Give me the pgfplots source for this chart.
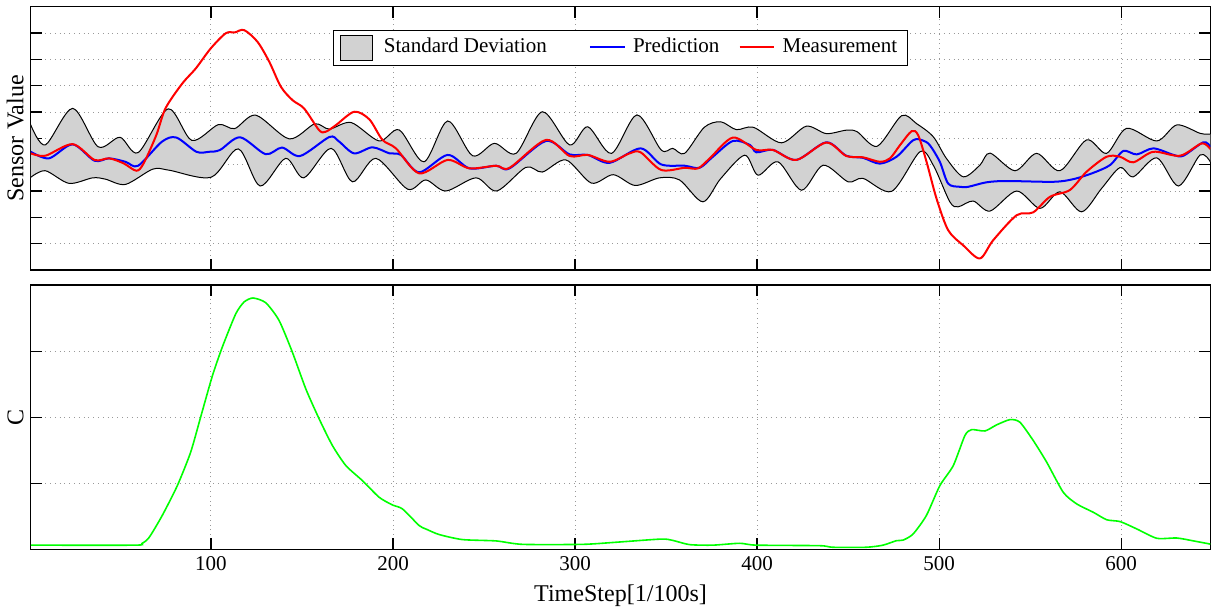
\documentclass[border=0pt]{standalone}
\usepackage{fontspec}
\setmainfont{Liberation Serif}
\usepackage{pgfplots}
\pgfplotsset{compat=1.18}
\usepgfplotslibrary{fillbetween}

\pgfplotstableread{
x v
1 0.51
9 -0.25
24 1.14
38 -0.32
50 0.04
60 -0.54
76.5 1.12
89.5 -0.08
104 0.52
113 0.37
124.6 0.88
143 -0.02
157 0.55
165 0.35
177 0.60
192.4 -0.10
203.4 0.32
217 -0.89
230 0.66
243.7 -0.66
255.7 -0.19
267.6 -0.57
282 1.01
297 -0.25
307 0.44
320 -0.57
334 0.89
347.3 -0.44
353.7 -0.38
360.2 -0.57
371 0.42
380 0.63
388.6 0.33
398 0.42
413.4 -0.17
427 0.46
438 0.18
449 0.31
455 0.25
466 -0.30
479.4 0.86
487.6 0.56
496.8 0.06
504.1 -0.77
513.3 -1.46
522.4 -1.02
528 -0.56
541.7 -1.23
553.6 -0.57
566.4 -1.23
581 -0.06
592 -0.57
603 0.38
619.6 -0.10
630.6 0.51
643.4 0.19
649 0.16
}\bandup

\pgfplotstableread{
x v
1 -1.48
9 -1.23
22 -1.71
35 -1.50
42 -1.55
53 -1.75
68 -1.17
77 -1.21
100 -1.48
115 -0.40
127 -1.81
141 -0.76
151 -1.50
166 -0.38
177.7 -1.65
190.6 -0.76
208 -1.93
218 -1.58
229 -2.00
245.6 -1.50
257 -2.00
273 -1.10
282 -1.28
295 -0.82
309 -1.70
321 -1.38
333 -1.79
346.4 -1.50
357.4 -1.58
370.2 -2.41
380 -1.53
393.2 -0.64
400.5 -1.40
411.5 -0.89
424.4 -1.97
436.3 -1.02
450 -1.65
458.2 -1.52
474 -2.01
489.5 -0.51
496.8 -1.02
505.9 -2.41
510.5 -2.60
518.7 -2.38
528 -2.76
542.6 -2.00
555.4 -2.66
566.4 -2.03
578.3 -2.79
589.3 -1.90
599.4 -1.11
606.7 -1.46
619.6 -0.74
631.5 -1.81
643.4 -0.63
649 -0.89
}\banddown

\pgfplotstableread{
x v
1 -0.51
11 -0.76
24 -0.23
36 -0.85
44 -0.76
53 -0.89
60 -1.04
73 -0.13
81 0.03
92 -0.51
99 -0.51
105 -0.44
116 0.04
130 -0.60
139 -0.35
149 -0.67
165 0.05
170 -0.10
178.6 -0.57
188.7 -0.34
198 -0.57
204.3 -0.63
214.4 -1.29
230 -0.63
242 -1.14
256.6 -1.04
264 -1.14
284 -0.10
297 -0.61
307 -0.63
319 -0.93
336 -0.38
347.3 -0.99
360.2 -1.04
368.4 -1.12
375.7 -0.70
386.7 -0.10
396 -0.25
399.6 -0.53
408.7 -0.44
421.6 -0.82
438 -0.15
449 -0.66
458.2 -0.74
467.4 -0.96
476.6 -0.70
485.8 -0.07
491 -0.08
494.9 -0.26
500.4 -0.89
505 -1.72
511.4 -1.84
516 -1.84
526 -1.67
537 -1.62
562.7 -1.65
573.7 -1.55
584.7 -1.31
594 -1.01
601.2 -0.48
608.6 -0.61
617.7 -0.38
628.8 -0.63
634.2 -0.66
645.2 -0.15
649 -0.32
}\predtab

\pgfplotstableread{
x v
1 -0.57
9 -0.66
24 -0.22
36 -0.82
44 -0.76
52 -0.95
59 -1.23
63 -0.95
70 0.13
75 1.14
84.2 2.08
91.6 2.65
99.8 3.41
108.1 3.99
113 4.02
118.2 4.11
125.5 3.67
132 2.91
138.4 1.96
144.8 1.45
151.2 1.13
159.4 0.31
163 0.25
168.6 0.50
178.7 1.01
187 0.72
194.2 -0.06
201.6 -0.38
214.4 -1.33
230 -0.82
242 -1.14
256.6 -1.04
264 -1.12
284 -0.06
297 -0.67
307 -0.63
319 -0.89
330 -0.57
336 -0.53
347.3 -1.20
360.2 -1.12
367.5 -1.14
374 -0.76
386.7 0.03
399.6 -0.44
408.7 -0.44
421.6 -0.82
438 -0.16
449 -0.67
458.2 -0.72
467.4 -0.89
473 -0.76
478.5 -0.26
484.9 0.27
488.5 0.12
493.1 -0.89
498.6 -2.29
505 -3.49
513.2 -4.06
522.4 -4.56
529.7 -3.87
542.6 -2.92
551.7 -2.81
560.9 -2.22
571.9 -1.96
581 -1.27
592 -0.70
599.4 -0.70
606.7 -0.91
617.7 -0.51
632.4 -0.66
644.3 -0.19
649 -0.41
}\meastab

\pgfplotstableread{
x v
1 0.016
58 0.016
62 0.022
66 0.045
73.2 0.128
81.5 0.241
88.8 0.367
94.3 0.500
100.7 0.655
106.2 0.765
113.6 0.891
118.2 0.936
123.1 0.951
130.1 0.933
137.4 0.866
144.7 0.746
152.1 0.607
159.4 0.494
166.7 0.393
174.1 0.317
183.2 0.260
192.4 0.197
199.7 0.168
205.2 0.153
214.4 0.090
218.1 0.077
225.4 0.056
238.2 0.037
256.6 0.032
271.2 0.019
304.2 0.019
322.6 0.027
347.3 0.039
353.7 0.034
362.9 0.018
375.7 0.016
390.4 0.023
399.6 0.016
434.4 0.014
441.7 0.008
460 0.008
469.2 0.016
476.6 0.033
480.2 0.035
485.7 0.058
493 0.128
500.4 0.241
507.8 0.317
514.2 0.431
517.9 0.453
525.2 0.448
531.6 0.471
539 0.491
544.4 0.481
551.7 0.412
559.1 0.330
568.2 0.216
575.6 0.172
584.8 0.140
592.1 0.112
599.5 0.105
608.7 0.077
619.6 0.042
630.6 0.043
639.8 0.032
649 0.020
}\ctab

\pgfplotsset{
  common/.style={
    scale only axis, width=589pt, xmin=1, xmax=649,
    xtick={100,200,...,600},
    grid=major, major grid style={dotted, gray!80, line width=0.5pt},
    tick style={black, line width=0.6pt}, major tick length=5.5pt,
    axis line style={line width=0.7pt},
    tick label style={font=\fontsize{10.5}{12}\selectfont},
    xlabel style={font=\fontsize{12}{14}\selectfont},
    /pgf/number format/assume math mode=true,
    yticklabels={},
    every axis y label/.style={at={(axis description cs:0,0.5)}, rotate=90, anchor=south,
      font=\fontsize{12}{14}\selectfont},
  }
}

\begin{document}
\begin{tikzpicture}
\begin{axis}[common, at={(0,139.5pt)}, height=131.5pt,
  ymin=-5, ymax=5, ytick={-5,-4,...,5}, xticklabels={},
  ylabel={Sensor Value}, set layers,
  legend columns=3, legend cell align=left,
  legend style={at={(0.5,0.9125)}, anchor=north, draw=black, line width=0.5pt,
    font=\fontsize{10.5}{12}\selectfont, inner ysep=2pt,
    /tikz/column 1/.style={column sep=3.5pt},
    /tikz/column 2/.style={column sep=19pt},
    /tikz/column 3/.style={column sep=2pt},
    /tikz/column 4/.style={column sep=7.5pt},
    /tikz/column 5/.style={column sep=2pt}},
  extra description/.code={\path (axis description cs:0,1) ++(0,1.5pt);}]
\addplot[name path=up, black, line width=0.5pt, smooth, forget plot] table[x=x,y=v] {\bandup};
\addplot[name path=lo, black, line width=0.5pt, smooth, forget plot] table[x=x,y=v] {\banddown};
\addplot[fill=gray!35, draw=none, forget plot] fill between[of=up and lo];
\addlegendimage{legend image code/.code={\draw[fill=gray!35,draw=black,line width=0.5pt] (0cm,-0.24cm) rectangle (0.56cm,0.2cm);}}
\addlegendentry{Standard Deviation}
\addplot[blue, line width=1pt, smooth] table[x=x,y=v] {\predtab};
\addlegendentry{Prediction}
\addplot[red, line width=1pt, smooth] table[x=x,y=v] {\meastab};
\addlegendentry{Measurement\hspace{10pt}}
\end{axis}
\begin{axis}[common, at={(0,0)}, height=132pt,
  ymin=0, ymax=1, ytick={0,0.25,...,1},
  ylabel={C}, xlabel={TimeStep[1/100s]}]
\addplot[green, line width=0.8pt, smooth, tension=0.4] table[x=x,y=v] {\ctab};
\end{axis}
\end{tikzpicture}
\end{document}
